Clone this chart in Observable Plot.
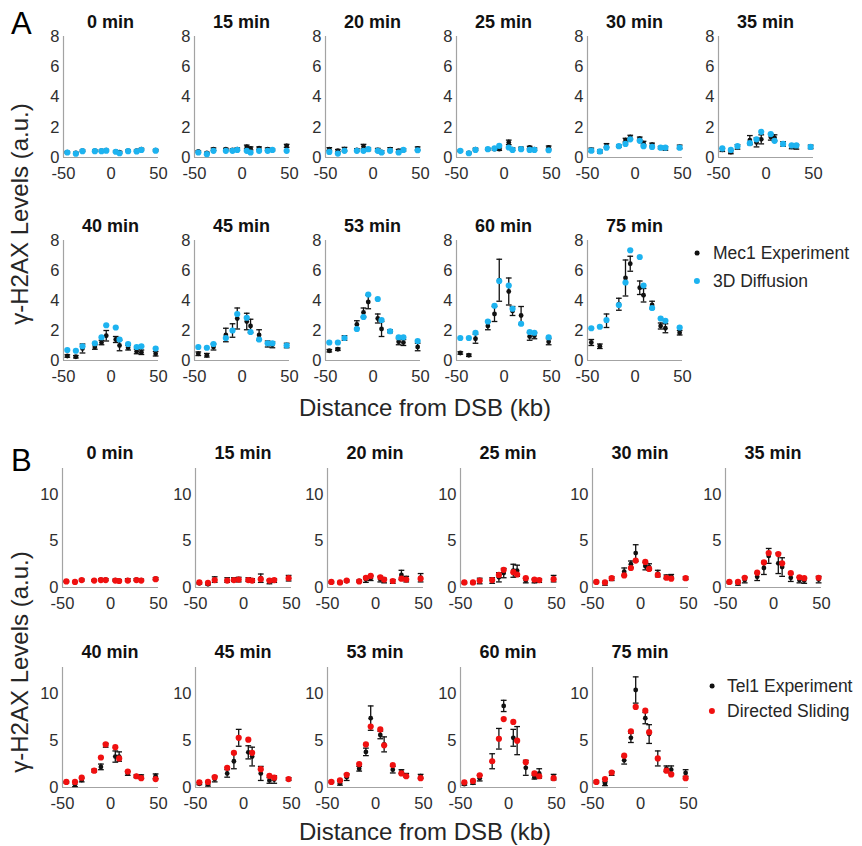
<!DOCTYPE html>
<html><head><meta charset="utf-8">
<script src="https://cdn.jsdelivr.net/npm/d3@7"></script>
<script src="https://cdn.jsdelivr.net/npm/@observablehq/plot@0.6"></script>
<style>
body{margin:0;background:#fff;font-family:"Liberation Sans",Arial,sans-serif;}
#root{position:relative;width:862px;height:846px;overflow:hidden;background:#fff;}
.abs{position:absolute;}
.ttl{position:absolute;font-weight:bold;font-size:18px;color:#111;transform:translate(-50%,-50%);white-space:nowrap;}
.big{position:absolute;font-size:24px;color:#262626;transform:translate(-50%,-50%);white-space:nowrap;}
.ylab{position:absolute;font-size:24px;color:#262626;transform:translate(-50%,-50%) rotate(-90deg);white-space:nowrap;}
.letter{position:absolute;font-size:31px;color:#000;line-height:1;}
.leg{position:absolute;font-size:17.5px;color:#262626;white-space:nowrap;transform:translateY(-50%);}
.dot{position:absolute;border-radius:50%;transform:translate(-50%,-50%);}
</style></head>
<body><div id="root"></div>
<script>
// ---- data ----
const distances = [-46, -37, -30, -17, -10, -5, 5, 9, 18, 27, 32, 47];
const times = ["0 min","15 min","20 min","25 min","30 min","35 min","40 min","45 min","53 min","60 min","75 min"];
const xTicks = [-50, 0, 50];
const yTicksA = [0, 2, 4, 6, 8];
const yTicksB = [0, 5, 10];

const mec1Experiment = [
  [0.35,0.3,0.45,0.45,0.45,0.48,0.4,0.35,0.45,0.45,0.55,0.48],
  [0.4,0.3,0.55,0.55,0.5,0.55,0.7,0.6,0.62,0.55,0.5,0.77],
  [0.55,0.45,0.55,0.5,0.72,0.55,0.5,0.37,0.55,0.45,0.5,0.6],
  [0.44,0.3,0.55,0.55,0.55,0.55,1.0,0.55,0.6,0.66,0.55,0.66],
  [0.5,0.4,0.8,0.75,1.15,1.35,1.25,0.95,0.85,0.65,0.6,0.7],
  [0.5,0.35,0.7,1.15,1.0,1.2,1.35,1.3,0.9,0.7,0.7,0.7],
  [0.3,0.25,0.8,0.9,1.2,1.65,1.4,1.0,0.85,0.6,0.55,0.45],
  [0.45,0.35,0.9,1.7,2.0,2.8,2.6,2.3,1.7,1.1,1.05,1.0],
  [0.65,0.75,1.5,2.4,3.2,3.9,2.8,2.1,1.95,1.25,1.2,0.9],
  [0.5,0.35,1.45,2.3,3.1,5.35,4.6,3.3,3.0,1.6,1.65,1.25],
  [1.2,0.95,2.65,3.75,5.5,6.45,4.85,4.35,3.7,2.3,2.15,1.85]
];
const mec1Error = [
  [0.05,0.05,0.05,0.05,0.05,0.05,0.05,0.05,0.05,0.05,0.05,0.05],
  [0.05,0.05,0.08,0.06,0.06,0.08,0.12,0.1,0.08,0.08,0.06,0.1],
  [0.1,0.08,0.12,0.08,0.15,0.1,0.1,0.08,0.1,0.08,0.08,0.1],
  [0.05,0.05,0.06,0.06,0.06,0.08,0.15,0.08,0.08,0.08,0.08,0.1],
  [0.12,0.1,0.12,0.08,0.12,0.12,0.1,0.12,0.1,0.08,0.12,0.12],
  [0.1,0.1,0.15,0.3,0.3,0.3,0.2,0.2,0.15,0.12,0.15,0.12],
  [0.08,0.08,0.3,0.15,0.15,0.35,0.2,0.35,0.15,0.15,0.15,0.15],
  [0.12,0.12,0.2,0.45,0.45,0.7,0.55,0.45,0.35,0.2,0.2,0.15],
  [0.08,0.08,0.15,0.25,0.3,0.45,0.3,0.5,0.1,0.2,0.2,0.25],
  [0.08,0.08,0.3,0.25,0.5,1.4,0.9,0.3,0.6,0.25,0.2,0.2],
  [0.2,0.15,0.45,0.4,1.2,0.5,0.45,0.45,0.25,0.2,0.3,0.15]
];
const diffusion3D = [
  [0.33,0.25,0.42,0.42,0.42,0.45,0.38,0.28,0.42,0.4,0.5,0.45],
  [0.33,0.22,0.44,0.44,0.44,0.5,0.44,0.33,0.44,0.44,0.5,0.44],
  [0.37,0.26,0.44,0.44,0.44,0.55,0.44,0.33,0.44,0.33,0.5,0.48],
  [0.44,0.28,0.5,0.55,0.6,0.77,0.66,0.5,0.55,0.5,0.5,0.48],
  [0.45,0.4,0.65,0.75,0.9,1.2,1.1,0.75,0.7,0.65,0.65,0.65],
  [0.6,0.5,0.75,0.95,1.2,1.7,1.55,1.1,0.9,0.8,0.8,0.7],
  [0.7,0.65,0.95,1.15,1.55,2.35,2.2,1.4,1.1,0.9,0.95,0.8],
  [0.9,0.85,1.1,1.5,2.0,3.1,2.85,1.9,1.4,1.15,1.15,1.0],
  [1.2,1.2,1.5,2.1,2.9,4.4,4.1,2.7,1.95,1.55,1.55,1.3],
  [1.5,1.5,1.85,2.6,3.65,5.3,5.0,3.45,2.45,1.9,1.85,1.55],
  [2.15,2.25,2.7,3.7,5.2,7.35,6.9,5.0,3.5,2.8,2.65,2.2]
];
const tel1Experiment = [
  [0.65,0.6,0.8,0.75,0.85,0.85,0.8,0.75,0.8,0.85,0.8,0.95],
  [0.45,0.35,0.85,0.8,0.85,0.85,0.85,0.75,1.0,0.6,0.75,1.0],
  [0.55,0.5,0.7,0.7,0.85,1.0,0.9,0.75,0.65,1.35,0.9,1.05],
  [0.5,0.5,0.7,0.75,1.1,1.55,1.8,1.8,0.75,0.7,0.75,0.95],
  [0.6,0.45,0.95,1.7,2.5,3.7,2.3,2.2,1.5,1.15,1.2,1.0],
  [0.55,0.45,0.8,1.15,2.1,3.4,2.6,2.2,1.05,0.8,0.75,0.85],
  [0.55,0.35,0.8,1.8,2.2,4.5,3.3,3.3,1.5,1.2,1.15,1.2],
  [0.4,0.35,0.9,1.5,2.8,5.3,3.75,3.3,1.5,0.75,0.85,0.9],
  [0.6,0.45,1.1,2.0,3.8,7.4,5.6,4.6,1.9,1.7,1.3,1.2],
  [0.35,0.5,1.0,2.8,5.2,8.7,5.3,5.0,2.1,1.1,1.5,1.1],
  [0.6,0.4,1.5,2.9,5.3,10.4,7.4,5.7,3.1,2.0,1.9,1.55]
];
const tel1Error = [
  [0.05,0.05,0.1,0.08,0.1,0.1,0.1,0.1,0.15,0.1,0.1,0.12],
  [0.08,0.08,0.3,0.25,0.2,0.25,0.2,0.2,0.45,0.2,0.2,0.3],
  [0.08,0.08,0.1,0.1,0.3,0.25,0.3,0.25,0.2,0.5,0.3,0.45],
  [0.08,0.08,0.3,0.3,0.5,0.5,0.7,0.6,0.25,0.2,0.2,0.35],
  [0.08,0.2,0.2,0.4,0.35,0.9,0.4,0.35,0.35,0.2,0.2,0.15],
  [0.08,0.2,0.3,0.4,0.7,0.8,1.1,1.0,0.4,0.3,0.3,0.35],
  [0.08,0.25,0.2,0.15,0.3,0.2,0.6,0.5,0.2,0.15,0.2,0.25],
  [0.1,0.2,0.3,0.4,0.8,0.9,0.7,1.0,0.75,0.3,0.4,0.15],
  [0.08,0.2,0.35,0.25,0.4,1.3,0.4,0.8,0.35,0.2,0.2,0.2],
  [0.1,0.15,0.3,0.8,1.1,0.6,0.9,1.5,0.8,0.2,0.5,0.3],
  [0.1,0.2,0.2,0.4,0.5,1.4,0.6,1.0,0.8,0.3,0.4,0.35]
];
const directedSliding = [
  [0.65,0.6,0.8,0.75,0.8,0.8,0.75,0.7,0.75,0.8,0.75,0.9],
  [0.55,0.5,0.8,0.75,0.8,0.85,0.8,0.75,0.9,0.75,0.8,1.0],
  [0.6,0.55,0.75,0.65,1.05,1.25,1.1,0.85,0.7,0.95,0.85,0.95],
  [0.55,0.55,0.75,0.8,1.35,1.9,1.65,1.4,1.0,0.85,0.8,0.9],
  [0.6,0.55,1.0,1.3,2.1,2.9,2.75,2.0,1.35,1.05,0.95,1.0],
  [0.6,0.6,1.05,1.6,2.7,3.7,3.6,2.6,1.55,1.1,1.0,1.05],
  [0.6,0.6,1.05,1.8,3.2,4.6,4.3,3.1,1.7,1.2,1.0,0.9],
  [0.55,0.6,1.1,2.1,3.7,5.3,5.1,3.7,1.95,1.25,1.05,0.9],
  [0.6,0.75,1.35,2.5,4.6,6.5,6.2,4.5,2.4,1.5,1.2,1.0],
  [0.55,0.7,1.3,2.8,5.2,7.3,7.0,5.0,2.7,1.5,1.2,1.0],
  [0.6,0.9,1.6,3.4,6.0,8.6,8.2,5.9,3.1,1.8,1.4,1.0]
];

// ---- layout ----
const root = document.getElementById("root");
const ML = 30, MR = 16, MT = 6, MB = 30;
const AXIS = "#a3a3a3", INK = "#111", BLUE = "#1db3f0", RED = "#f01010";

function panel(exp, err, model, color, yMax, yTicks, w, h) {
  const rows = distances.map((x, i) => ({x, y: exp[i], e: err[i], m: model[i]}));
  const cap = 3;
  return Plot.plot({
    width: ML + w + MR, height: MT + h + MB,
    marginLeft: ML, marginRight: MR, marginTop: MT, marginBottom: MB,
    style: {fontSize: "16.5px", fontFamily: "'Liberation Sans', Arial, sans-serif", color: "#2e2e2e", background: "transparent", overflow: "visible"},
    x: {domain: [-50, 50], ticks: xTicks, tickFormat: d => String(d), tickSize: 0, tickPadding: 10, label: null},
    y: {domain: [0, yMax], ticks: yTicks, tickFormat: d => String(d), tickSize: 0, tickPadding: 4, label: null},
    marks: [
      Plot.ruleX([-50], {stroke: AXIS, strokeWidth: 1.2}),
      Plot.ruleY([0], {stroke: AXIS, strokeWidth: 1.2}),
      Plot.ruleX(rows, {x: "x", y1: d => d.y - d.e, y2: d => d.y + d.e, stroke: INK, strokeWidth: 1.3}),
      Plot.link(rows, {x1: d => d.x - cap, x2: d => d.x + cap, y1: d => d.y + d.e, y2: d => d.y + d.e, stroke: INK, strokeWidth: 1.3}),
      Plot.link(rows, {x1: d => d.x - cap, x2: d => d.x + cap, y1: d => d.y - d.e, y2: d => d.y - d.e, stroke: INK, strokeWidth: 1.3}),
      Plot.dot(rows, {x: "x", y: "y", r: 2.4, fill: INK, stroke: "none"}),
      Plot.dot(rows, {x: "x", y: "m", r: 3.1, fill: color, stroke: "none"})
    ]
  });
}

function place(el, left, top) {
  el.style.position = "absolute";
  el.style.left = left + "px";
  el.style.top = top + "px";
  root.appendChild(el);
}
function addDiv(cls, text, x, y) {
  const d = document.createElement("div");
  d.className = cls; d.textContent = text;
  d.style.left = x + "px"; d.style.top = y + "px";
  root.appendChild(d);
  return d;
}

const colA = [63, 194, 325, 456, 587, 718];
const topA = [36, 240], hA = [121, 120];
const colB = [62, 195, 327, 460, 592, 725];
const topB = [468, 667], hB = [119, 120];

for (let i = 0; i < times.length; i++) {
  const r = i < 6 ? 0 : 1, c = i < 6 ? i : i - 6;
  // A
  {
    const w = 95, h = hA[r], left = colA[c], top = topA[r];
    const svg = panel(mec1Experiment[i], mec1Error[i], diffusion3D[i], BLUE, 8, yTicksA, w, h);
    place(svg, left - ML, top - MT);
    addDiv("ttl", times[i], left + w / 2, top - 14);
  }
  // B
  {
    const w = 96, h = hB[r], left = colB[c], top = topB[r];
    const svg = panel(tel1Experiment[i], tel1Error[i], directedSliding[i], RED, 12.8, yTicksB, w, h);
    place(svg, left - ML, top - MT);
    addDiv("ttl", times[i], left + w / 2, top - 15);
  }
}

addDiv("letter", "A", 11, 8);
addDiv("letter", "B", 11, 445);
addDiv("ylab", "\u03b3-H2AX Levels (a.u.)", 20, 214);
addDiv("ylab", "\u03b3-H2AX Levels (a.u.)", 20, 662);
addDiv("big", "Distance from DSB (kb)", 425, 408);
addDiv("big", "Distance from DSB (kb)", 425, 832);

function legendItem(x, y, color, r, label, tx) {
  const d = document.createElement("div");
  d.className = "dot";
  d.style.left = x + "px"; d.style.top = y + "px";
  d.style.width = (2 * r) + "px"; d.style.height = (2 * r) + "px";
  d.style.background = color;
  root.appendChild(d);
  addDiv("leg", label, tx, y);
}
legendItem(697, 253, INK, 2.4, "Mec1 Experiment", 713);
legendItem(697, 281, BLUE, 3.1, "3D Diffusion", 713);
legendItem(712, 686, INK, 2.4, "Tel1 Experiment", 727);
legendItem(712, 711, RED, 3.1, "Directed Sliding", 727);
</script>
</body></html>
